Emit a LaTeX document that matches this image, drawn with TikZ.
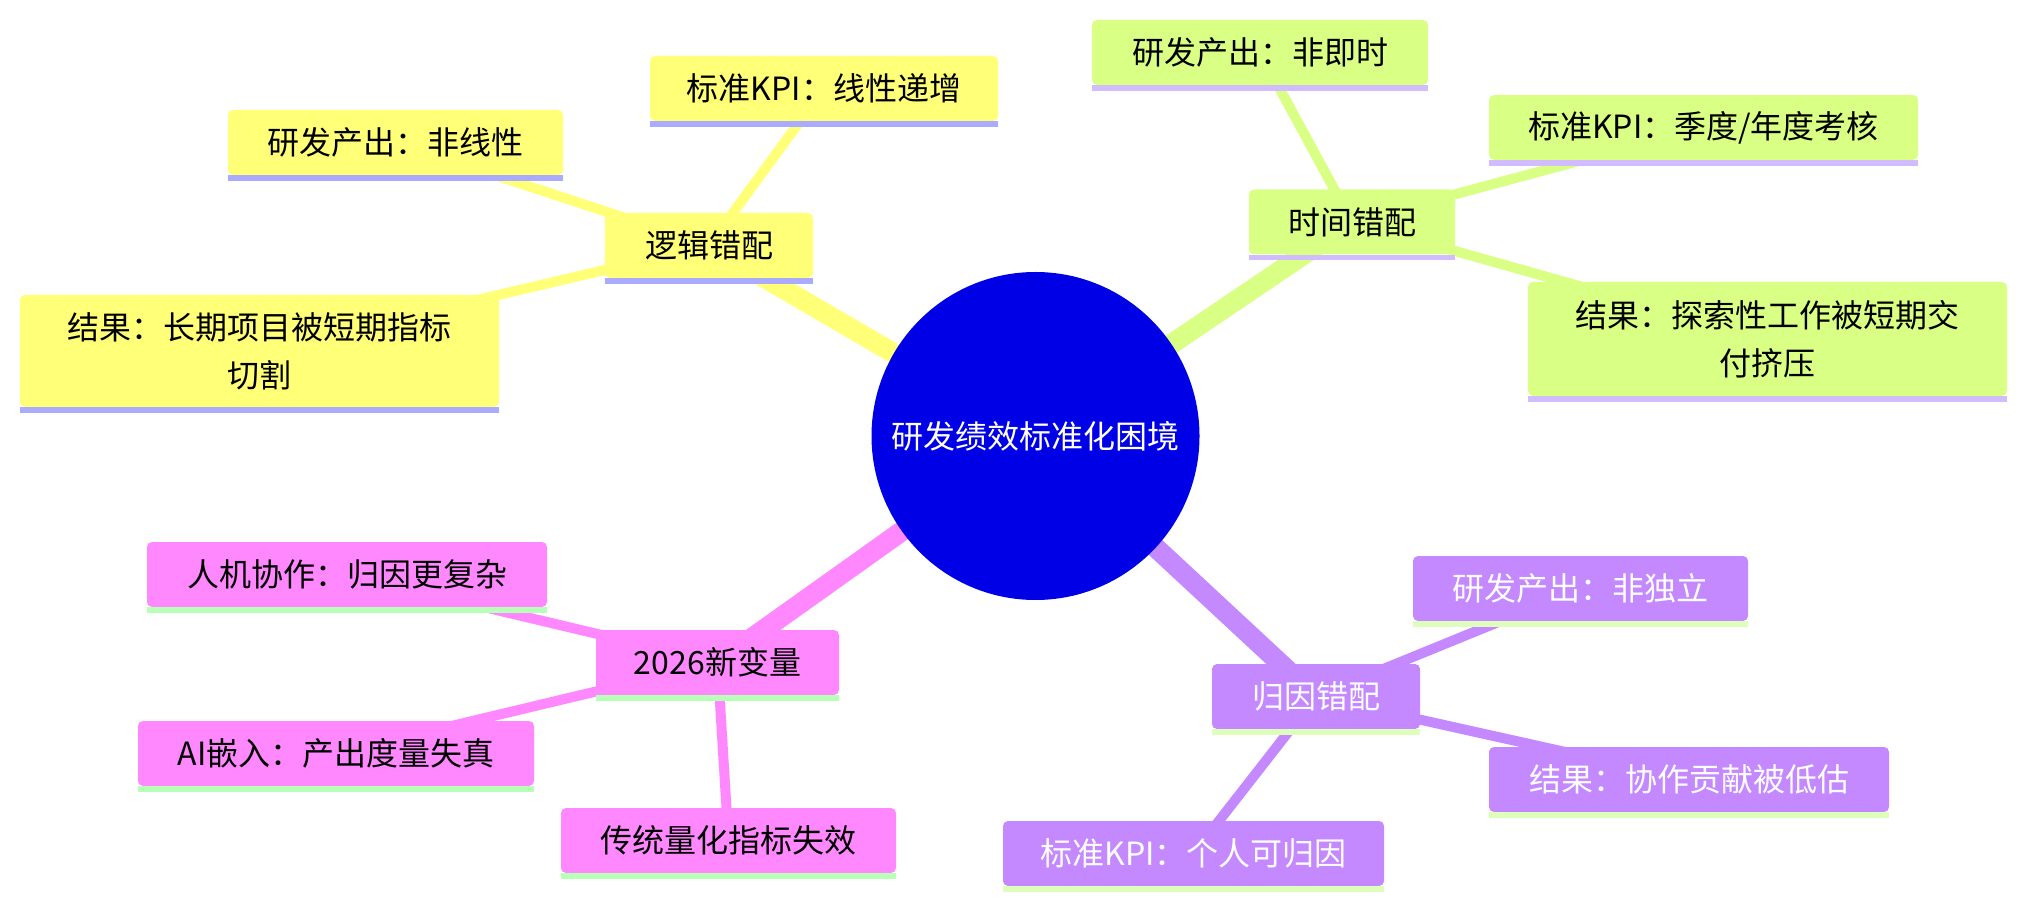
\documentclass[tikz,border=0pt]{standalone}
\usepackage{fontspec}
\setmainfont{Noto Sans CJK SC}
\usetikzlibrary{backgrounds}
\definecolor{yfill}{RGB}{255,255,120}
\definecolor{yline}{RGB}{170,170,255}
\definecolor{gfill}{RGB}{217,255,133}
\definecolor{gline}{RGB}{208,188,255}
\definecolor{pfill}{RGB}{255,136,255}
\definecolor{pline}{RGB}{184,255,184}
\definecolor{ufill}{RGB}{196,136,255}
\definecolor{uline}{RGB}{221,255,187}
\definecolor{rootblue}{RGB}{0,0,230}
\tikzset{
  mmbox/.style={rounded corners=2.5pt, inner sep=0pt, minimum height=32.5pt, align=center, font=\fontsize{16}{24}\selectfont},
  ybox/.style={mmbox, fill=yfill, text=black},
  gbox/.style={mmbox, fill=gfill, text=black},
  pbox/.style={mmbox, fill=pfill, text=black},
  ubox/.style={mmbox, fill=ufill, text=white},
  rootnode/.style={circle, fill=rootblue, text=white, inner sep=0pt, minimum size=164pt, font=\fontsize{16}{24}\selectfont},
  rootedge/.style={line width=10pt},
  subedge/.style={line width=5pt},
}
\newcommand\mmline[2]{\fill[#2] (#1.south west) rectangle ([yshift=-2.75pt]#1.south east);}
\begin{document}
\begin{tikzpicture}[x=0.5pt,y=-0.5pt]
\useasboundingbox (0,0) rectangle (2027,908);
% root
\node[rootnode] (root) at (1035.5,436) {研发绩效标准化困境};
% yellow section
\node[ybox, minimum width=104pt] (y1) at (709,245.5) {逻辑错配};
\node[ybox, minimum width=167.5pt] (y2) at (395.5,142.5) {研发产出：非线性};
\node[ybox, minimum width=174pt] (y3) at (824,88.5) {标准KPI：线性递增};
\node[ybox, minimum width=239.5pt, minimum height=56pt] (y4) at (259.5,351) {结果：长期项目被短期指标\\切割};
% green section
\node[gbox, minimum width=103pt] (g1) at (1352,222) {时间错配};
\node[gbox, minimum width=168pt] (g2) at (1260,52.5) {研发产出：非即时};
\node[gbox, minimum width=214.5pt] (g3) at (1703.5,127.5) {标准KPI：季度/年度考核};
\node[gbox, minimum width=239.5pt, minimum height=57pt] (g4) at (1767.5,339) {结果：探索性工作被短期交\\付挤压};
% pink section
\node[pbox, minimum width=121.5pt] (p1) at (717.5,662.5) {2026新变量};
\node[pbox, minimum width=200pt] (p2) at (347,574.5) {人机协作：归因更复杂};
\node[pbox, minimum width=198pt] (p3) at (336,753.5) {AI嵌入：产出度量失真};
\node[pbox, minimum width=167.5pt] (p4) at (728.5,840.5) {传统量化指标失效};
% purple section
\node[ubox, minimum width=104pt] (u1) at (1316,696.5) {归因错配};
\node[ubox, minimum width=167.5pt] (u2) at (1580.5,588.5) {研发产出：非独立};
\node[ubox, minimum width=200pt] (u3) at (1689,779.5) {结果：协作贡献被低估};
\node[ubox, minimum width=190.5pt] (u4) at (1193.5,853.5) {标准KPI：个人可归因};
% underlines
\mmline{y1}{yline}\mmline{y2}{yline}\mmline{y3}{yline}\mmline{y4}{yline}
\mmline{g1}{gline}\mmline{g2}{gline}\mmline{g3}{gline}\mmline{g4}{gline}
\mmline{p1}{pline}\mmline{p2}{pline}\mmline{p3}{pline}\mmline{p4}{pline}
\mmline{u1}{uline}\mmline{u2}{uline}\mmline{u3}{uline}\mmline{u4}{uline}
% edges
\begin{scope}[on background layer]
\draw[rootedge, yfill] (root.center) -- (y1.center);
\draw[subedge, yfill] (y1.center) -- (y2.center);
\draw[subedge, yfill] (y1.center) -- (y3.center);
\draw[subedge, yfill] (y1.center) -- (y4.center);
\draw[rootedge, gfill] (root.center) -- (g1.center);
\draw[subedge, gfill] (g1.center) -- (g2.center);
\draw[subedge, gfill] (g1.center) -- (g3.center);
\draw[subedge, gfill] (g1.center) -- (g4.center);
\draw[rootedge, pfill] (root.center) -- (p1.center);
\draw[subedge, pfill] (p1.center) -- (p2.center);
\draw[subedge, pfill] (p1.center) -- (p3.center);
\draw[subedge, pfill] (p1.center) -- (p4.center);
\draw[rootedge, ufill] (root.center) -- (u1.center);
\draw[subedge, ufill] (u1.center) -- (u2.center);
\draw[subedge, ufill] (u1.center) -- (u3.center);
\draw[subedge, ufill] (u1.center) -- (u4.center);
\end{scope}
\end{tikzpicture}
\end{document}
